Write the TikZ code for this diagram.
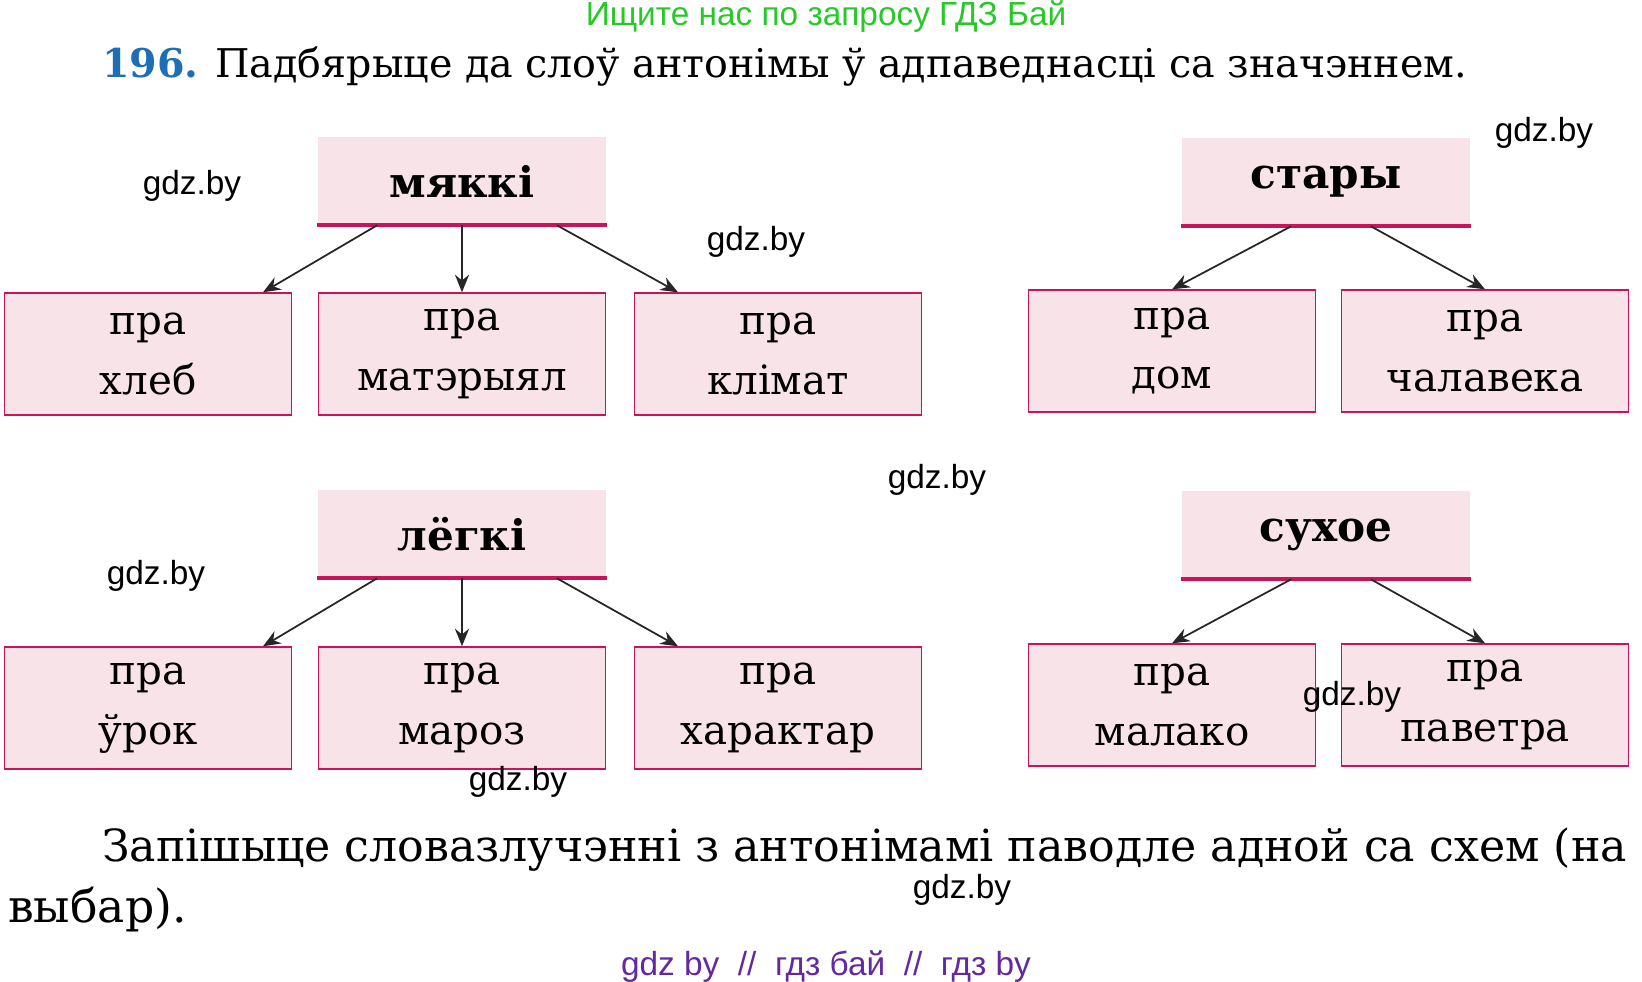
\documentclass[tikz,border=0pt]{standalone}
\usepackage{fontspec}
\setmainfont{DejaVu Serif}
\newfontfamily\wmfont{Liberation Sans}
\usetikzlibrary{arrows.meta}
\definecolor{boxfill}{RGB}{248,228,232}
\definecolor{boxline}{RGB}{200,20,90}
\definecolor{numblue}{RGB}{30,110,180}
\definecolor{wmgreen}{RGB}{40,200,40}
\definecolor{wmpurple}{RGB}{100,40,160}
\begin{document}
\begin{tikzpicture}[x=0.02cm,y=-0.02cm]
        \tikzstyle{arrow}=[-{Stealth[length=10pt,width=8pt]},line width=1pt,black!85];
        \tikzstyle{head}=[fill=boxfill,minimum width=5.78cm,minimum height=1.76cm,inner sep=0pt,font=\fontsize{24}{28}\selectfont\bfseries];
        \tikzstyle{leaf}=[fill=boxfill,draw=boxline,thick,minimum width=5.74cm,minimum height=2.44cm,inner sep=0pt,align=center,font=\fontsize{23}{34}\selectfont];
        \tikzstyle{wm}=[font=\wmfont\fontsize{19}{22}\selectfont];
        \useasboundingbox (0,0) rectangle (1642,981);
        \node[wm,text=wmgreen] (top) at (826,17) {Ищите нас по запросу ГДЗ Бай};
        \node[anchor=west] (title) at (96,67) {\resizebox{27.3cm}{!}{\fontsize{27}{32}\selectfont\textcolor{numblue}{\textbf{196.}} Падбярыце да слоў антонімы ў адпаведнасці са значэннем.}};

        % top left group
        \node[head] (h1) at (462,181) {мяккі};
        \draw[boxline,line width=2.2pt] (h1.south west) -- (h1.south east);
        \node[leaf] (a1) at (148,354) {пра\\хлеб};
        \node[leaf] (a2) at (462,354) {пра\\матэрыял};
        \node[leaf] (a3) at (778,354) {пра\\клімат};
        \draw [arrow] ([xshift=-1.7cm]h1.south) -- ([xshift=2.3cm]a1.north);
        \draw [arrow] (h1.south) -- (a2.north);
        \draw [arrow] ([xshift=1.9cm]h1.south) -- ([xshift=-2.0cm]a3.north);

        % top right group
        \node[head] (h2) at (1326,182) {стары};
        \draw[boxline,line width=2.2pt] (h2.south west) -- (h2.south east);
        \node[leaf] (b1) at (1172,351) {пра\\дом};
        \node[leaf] (b2) at (1485,351) {пра\\чалавека};
        \draw [arrow] ([xshift=-0.7cm]h2.south) -- (b1.north);
        \draw [arrow] ([xshift=0.9cm]h2.south) -- (b2.north);

        % bottom left group
        \node[head] (h3) at (462,534) {лёгкі};
        \draw[boxline,line width=2.2pt] (h3.south west) -- (h3.south east);
        \node[leaf] (c1) at (148,708) {пра\\ўрок};
        \node[leaf] (c2) at (462,708) {пра\\мароз};
        \node[leaf] (c3) at (778,708) {пра\\характар};
        \draw [arrow] ([xshift=-1.7cm]h3.south) -- ([xshift=2.3cm]c1.north);
        \draw [arrow] (h3.south) -- (c2.north);
        \draw [arrow] ([xshift=1.9cm]h3.south) -- ([xshift=-2.0cm]c3.north);

        % bottom right group
        \node[head] (h4) at (1326,535) {сухое};
        \draw[boxline,line width=2.2pt] (h4.south west) -- (h4.south east);
        \node[leaf] (d1) at (1172,705) {пра\\малако};
        \node[leaf] (d2) at (1485,705) {пра\\паветра};
        \draw [arrow] ([xshift=-0.7cm]h4.south) -- (d1.north);
        \draw [arrow] ([xshift=0.9cm]h4.south) -- (d2.north);

        \node[anchor=west] (task) at (96,850) {\resizebox{30.5cm}{!}{\fontsize{26}{32}\selectfont Запішыце словазлучэнні з антонімамі паводле адной са схем (на}};
        \node[anchor=west,font=\fontsize{26}{32}\selectfont] (task2) at (2,910) {выбар).};

        % watermarks
        \node[wm] (w1) at (192,186) {gdz.by};
        \node[wm] (w2) at (756,242) {gdz.by};
        \node[wm] (w3) at (1544,133) {gdz.by};
        \node[wm] (w4) at (937,480) {gdz.by};
        \node[wm] (w5) at (156,576) {gdz.by};
        \node[wm] (w6) at (1352,697) {gdz.by};
        \node[wm] (w7) at (518,782) {gdz.by};
        \node[wm] (w8) at (962,890) {gdz.by};
        \node[wm,text=wmpurple] (w9) at (826,967) {gdz by \ // \ гдз бай \ // \ гдз by};
    \end{tikzpicture}
\end{document}
